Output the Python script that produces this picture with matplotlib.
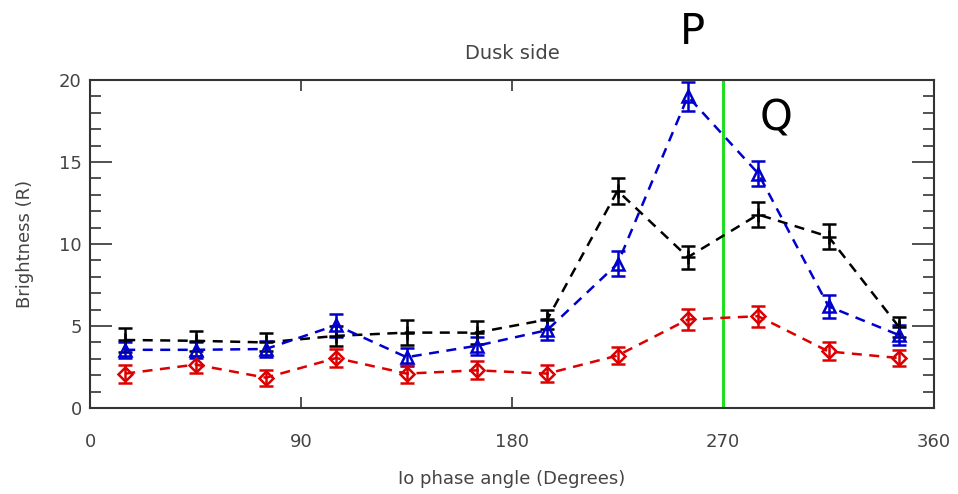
import matplotlib.pyplot as plt

# Io phase angle bins (degrees)
phase = [15, 45, 75, 105, 135, 165, 195, 225, 255, 285, 315, 345]

# brightness values (R)
black_vals = [4.15, 4.1, 4.0, 4.4, 4.6, 4.6, 5.4, 13.25, 9.2, 11.8, 10.45, 4.95]
black_err = [0.75, 0.6, 0.55, 0.6, 0.75, 0.7, 0.6, 0.8, 0.7, 0.75, 0.75, 0.6]

blue_vals = [3.55, 3.55, 3.6, 5.05, 3.1, 3.8, 4.75, 8.8, 19.0, 14.3, 6.2, 4.45]
blue_err = [0.5, 0.5, 0.5, 0.7, 0.55, 0.55, 0.6, 0.75, 0.9, 0.75, 0.7, 0.6]

red_vals = [2.1, 2.65, 1.85, 3.05, 2.1, 2.3, 2.1, 3.2, 5.4, 5.6, 3.45, 3.05]
red_err = [0.55, 0.5, 0.5, 0.55, 0.55, 0.55, 0.5, 0.5, 0.65, 0.65, 0.55, 0.5]

xticks = [0, 90, 180, 270, 360]
yticks = [0, 5, 10, 15, 20]

txt = '#444444'

fig = plt.figure(figsize=(9.58, 4.94), dpi=100)
ax = fig.add_axes([0.094, 0.174, 0.881, 0.664])

ax.errorbar(phase, black_vals, yerr=black_err, color='black', ls=(0, (4, 3)), lw=1.8,
            marker='+', ms=10, mew=1.8, capsize=5, elinewidth=1.8, capthick=1.8)
ax.errorbar(phase, blue_vals, yerr=blue_err, color='#0000cc', ls=(0, (4, 3)), lw=1.8,
            marker='^', ms=9, mfc='none', mew=1.8, capsize=5, elinewidth=1.8, capthick=1.8)
ax.errorbar(phase, red_vals, yerr=red_err, color='#dd0000', ls=(0, (4, 3)), lw=1.8,
            marker='D', ms=7, mfc='none', mew=1.8, capsize=5, elinewidth=1.8, capthick=1.8)

# Green marker line at 270 degrees
ax.axvline(270, color='#22dd22', lw=2.2)

ax.set_xlim(0, 360)
ax.set_ylim(0, 20)
ax.set_xticks(xticks)
ax.set_yticks(yticks)
ax.set_yticks(range(0, 21), minor=True)
ax.tick_params(axis='both', which='major', direction='in', top=True, right=True,
               colors='#333333', labelcolor=txt, labelsize=13, width=1.2)
ax.tick_params(axis='x', which='major', length=8, pad=18)
ax.tick_params(axis='y', which='major', length=16, pad=6)
ax.tick_params(axis='y', which='minor', direction='in', right=True, length=8,
               color='#333333', width=1.2)
for s in ax.spines.values():
    s.set_color('#333333')
    s.set_linewidth(1.5)

ax.set_title('Dusk side', fontsize=14, color=txt, pad=15)
ax.set_xlabel('Io phase angle (Degrees)', fontsize=13, color=txt, labelpad=14)
ax.set_ylabel('Brightness (R)', fontsize=13, color=txt, labelpad=18)

fig.text(692 / 958, 1 - 32 / 494, 'P', fontsize=30, ha='center', va='center', color='black')
fig.text(776 / 958, 1 - 118 / 494, 'Q', fontsize=30, ha='center', va='center', color='black')

fig.savefig('out.png', dpi=100)
